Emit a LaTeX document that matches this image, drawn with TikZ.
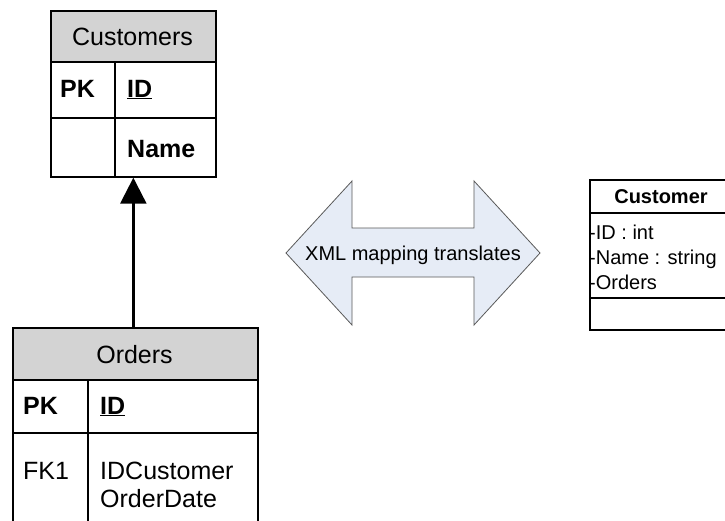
\documentclass[tikz,border=0pt]{standalone}
\usepackage{fontspec}
\setmainfont{Liberation Sans}
\usetikzlibrary{arrows.meta}
\definecolor{hdrgray}{HTML}{D3D3D3}
\definecolor{arrowfill}{HTML}{E6ECF6}
\definecolor{arrowline}{HTML}{5A5A5A}
\begin{document}
\begin{tikzpicture}[x=1pt,y=-1pt,
  tblline/.style={draw=black,line width=1.7pt},
  clsline/.style={draw=black,line width=1.5pt},
  tbltext/.style={inner sep=0pt,font=\fontsize{25}{28}\selectfont},
  tblbold/.style={inner sep=0pt,font=\fontsize{25}{28}\selectfont\bfseries},
  clstext/.style={inner sep=0pt,font=\fontsize{20}{23}\selectfont},
  clsbold/.style={inner sep=0pt,font=\fontsize{20}{23}\selectfont\bfseries},
  arrtext/.style={inner sep=0pt,font=\fontsize{20}{23}\selectfont},
  relarrow/.style={line width=2.5pt,-{Triangle[width=26pt,length=26pt]}}
]
\useasboundingbox (0,0) rectangle (725,520);
\clip (0,0) rectangle (725,520);
\fill[white] (0,0) rectangle (725,520);

% ---------- Customers table ----------
\fill[hdrgray] (50,10) rectangle (215,62);
\node[tblline,anchor=north west,inner sep=0pt,minimum width=165pt,minimum height=166pt] (cust) at (50,10) {};
\draw[tblline] (50,62) -- (215,62);
\draw[tblline] (50,118) -- (215,118);
\draw[tblline] (115,62) -- (115,176);
\node[tbltext,anchor=base] (custT) at (132.5,45) {Customers};
\node[tblbold,anchor=base west] (custPK) at (60,97) {PK};
\node[tblbold,anchor=base west] (custID) at (127,97) {\underline{ID}};
\node[tblbold,anchor=base west] (custName) at (127,157) {Name};

% ---------- Orders table ----------
\fill[hdrgray] (12,327) rectangle (257,380);
\node[tblline,anchor=north west,inner sep=0pt,minimum width=245pt,minimum height=210pt] (ord) at (12,327) {};
\draw[tblline] (12,380) -- (257,380);
\draw[tblline] (12,433) -- (257,433);
\draw[tblline] (88,380) -- (88,540);
\node[tbltext,anchor=base] (ordT) at (134.5,363) {Orders};
\node[tblbold,anchor=base west] (ordPK) at (23,414) {PK};
\node[tblbold,anchor=base west] (ordID) at (100,414) {\underline{ID}};
\node[tbltext,anchor=base west] (ordFK) at (23,479) {FK1};
\node[tbltext,anchor=base west] (ordC) at (100,479) {IDCustomer};
\node[tbltext,anchor=base west] (ordD) at (100,507) {OrderDate};

% ---------- relation ----------
\draw[relarrow] (cust.south |- ord.north) -- (cust.south);

% ---------- double arrow ----------
\draw[fill=arrowfill,draw=arrowline,line width=0.8pt]
  (286,253) -- (352,181) -- (352,228) -- (474,228) -- (474,181) -- (540,253)
  -- (474,325) -- (474,277) -- (352,277) -- (352,325) -- cycle;
\node[arrtext,anchor=base] (xmlmap) at (413,260) {XML mapping translates};

% ---------- Customer class ----------
\node[clsline,anchor=north west,inner sep=0pt,minimum width=150pt,minimum height=150pt] (cls) at (589,179) {};
\draw[clsline] (589,213) -- (740,213);
\draw[clsline] (589,298) -- (740,298);
\node[clsbold,anchor=base] (clsT) at (661,203) {Customer};
\node[clstext,anchor=base west] (a1) at (589,239) {-ID : int};
\node[clstext,anchor=base west] (a2) at (589,264) {-Name : string};
\node[clstext,anchor=base west] (a3) at (589,289) {-Orders};
\end{tikzpicture}
\end{document}
